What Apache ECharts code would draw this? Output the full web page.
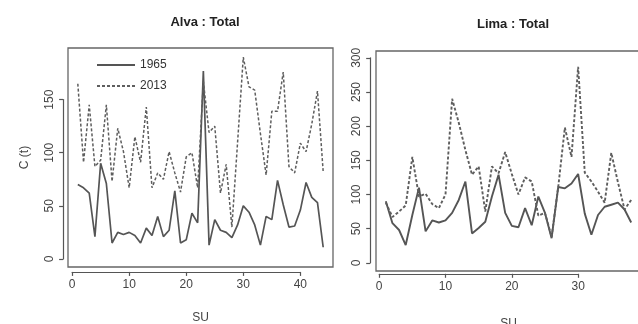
<!DOCTYPE html>
<html>
<head>
<meta charset="utf-8">
<script src="https://cdn.jsdelivr.net/npm/echarts@6/dist/echarts.min.js"></script>
<style>
html, body { margin: 0; padding: 0; background: #fff; }
#chart { width: 638px; height: 324px; }
</style>
</head>
<body>
<div id="chart"></div>
<script>
// SU index for each panel
var alvaSU = [1,2,3,4,5,6,7,8,9,10,11,12,13,14,15,16,17,18,19,20,21,22,23,24,25,26,27,28,29,30,31,32,33,34,35,36,37,38,39,40,41,42,43,44];
var limaSU = [1,2,3,4,5,6,7,8,9,10,11,12,13,14,15,16,17,18,19,20,21,22,23,24,25,26,27,28,29,30,31,32,33,34,35,36,37,38];

// Alva : Total
var alva1965 = [70,67,62,21,90,71,15,25,23,25,22,15,29,22,40,21,27,64,15,18,43,34,177,13,37,27,25,20,32,50,44,32,13,40,37,74,51,30,31,46,72,58,53,11];
var alva2013 = [165,91,145,87,93,145,73,123,101,67,115,91,143,67,81,75,101,81,63,96,100,67,167,119,125,62,89,30,110,190,162,159,118,79,139,139,176,87,81,109,101,127,158,82];

// Lima : Total
var lima1965 = [90,58,48,26,70,110,46,62,59,62,73,92,119,43,51,60,97,129,73,54,52,80,55,97,73,36,111,109,116,130,72,41,70,82,85,88,78,59];
var lima2013 = [88,67,75,84,155,97,101,86,80,100,240,205,165,129,141,75,141,131,162,130,100,125,119,69,73,38,111,198,155,287,132,119,104,88,161,118,78,92];

var legendNames = ['1965', '2013'];
var alvaXTicks = { min: 0, max: 40, interval: 10 };
var alvaYTicks = { min: 0, max: 150, interval: 50 };
var limaXTicks = { min: 0, max: 30, interval: 10 };
var limaYTicks = { min: 0, max: 300, interval: 50 };

// plot regions (R style: 4% padding around data)
var alvaBox = { left: 68, top: 48, width: 265, height: 219, xmin: -0.72, xmax: 45.72, ymin: -7.6, ymax: 198.6 };
var limaBox = { left: 376, top: 51, width: 265, height: 220, xmin: -0.48, xmax: 39.48, ymin: -12, ymax: 310 };

var axisColor = '#555';
var textColor = '#444';
var font = 'Liberation Sans, Arial, sans-serif';

function pairs(xs, ys) {
    return xs.map(function (x, i) { return [x, ys[i]]; });
}

// grid holding only the R-style axes (from first to last tick)
function axisGrid(box, xt, yt) {
    var sx = box.width / (box.xmax - box.xmin);
    var sy = box.height / (box.ymax - box.ymin);
    return {
        left: box.left + (xt.min - box.xmin) * sx,
        width: (xt.max - xt.min) * sx,
        top: box.top + (box.ymax - yt.max) * sy,
        height: (yt.max - yt.min) * sy,
        containLabel: false,
        outerBoundsMode: 'none'
    };
}

function dataGrid(box) {
    return {
        left: box.left, top: box.top, width: box.width, height: box.height,
        show: true, borderColor: '#666', borderWidth: 1.3, backgroundColor: 'transparent',
        containLabel: false,
        outerBoundsMode: 'none'
    };
}

function hiddenAxis(gridIndex, min, max, name, gap, rotate) {
    return {
        type: 'value', gridIndex: gridIndex, min: min, max: max,
        axisLine: { show: false }, axisTick: { show: false },
        axisLabel: { show: false }, splitLine: { show: false },
        name: name, nameLocation: 'middle', nameGap: gap, nameRotate: rotate,
        nameTextStyle: { color: textColor, fontSize: 12, fontFamily: font }
    };
}

function tickAxis(gridIndex, t, offset, rotate) {
    return {
        type: 'value', gridIndex: gridIndex, min: t.min, max: t.max, interval: t.interval,
        offset: offset,
        axisLine: { show: true, onZero: false, lineStyle: { color: axisColor, width: 1.2 } },
        axisTick: { show: true, length: 4, lineStyle: { color: axisColor, width: 1.2 } },
        axisLabel: { color: textColor, fontSize: 12, fontFamily: font, margin: 7, rotate: rotate || 0 },
        splitLine: { show: false }
    };
}

function lineSeries(name, xi, data, dashed, width) {
    return {
        type: 'line', name: name, xAxisIndex: xi, yAxisIndex: xi,
        data: data, symbol: 'none', showSymbol: false, animation: false,
        lineStyle: dashed
            ? { color: '#5e5e5e', width: width, type: [3, 2] }
            : { color: '#555', width: width },
        itemStyle: { color: dashed ? '#5e5e5e' : '#555' }
    };
}

var dom = document.getElementById('chart');
var chart = echarts.init(dom, null, { renderer: 'canvas' });

var option = {
    backgroundColor: '#fff',
    animation: false,
    title: [
        { text: 'Alva : Total', left: 200, top: 11, textAlign: 'center',
          textStyle: { fontSize: 13, fontWeight: 'bold', color: '#222', fontFamily: font } },
        { text: 'Lima : Total', left: 508, top: 13, textAlign: 'center',
          textStyle: { fontSize: 13, fontWeight: 'bold', color: '#222', fontFamily: font } }
    ],
    legend: {
        data: legendNames, orient: 'vertical', left: 91, top: 54,
        itemWidth: 38, itemHeight: 14, itemGap: 9,
        itemStyle: { opacity: 0 },
        textStyle: { color: '#333', fontSize: 12, fontFamily: font }
    },
    grid: [
        dataGrid(alvaBox),
        axisGrid(alvaBox, alvaXTicks, alvaYTicks),
        dataGrid(limaBox),
        axisGrid(limaBox, limaXTicks, limaYTicks)
    ],
    xAxis: [
        hiddenAxis(0, alvaBox.xmin, alvaBox.xmax, 'SU', 45, 0),
        tickAxis(1, alvaXTicks, 13),
        hiddenAxis(2, limaBox.xmin, limaBox.xmax, 'SU', 47, 0),
        tickAxis(3, limaXTicks, 11)
    ],
    yAxis: [
        hiddenAxis(0, alvaBox.ymin, alvaBox.ymax, 'C (t)', 37, 90),
        tickAxis(1, alvaYTicks, 9, 90),
        hiddenAxis(2, limaBox.ymin, limaBox.ymax, '', 0, 90),
        tickAxis(3, limaYTicks, 9, 90)
    ],
    series: [
        lineSeries('1965', 0, pairs(alvaSU, alva1965), false, 1.7),
        lineSeries('2013', 0, pairs(alvaSU, alva2013), true, 1.5),
        lineSeries('1965', 2, pairs(limaSU, lima1965), false, 1.9),
        lineSeries('2013', 2, pairs(limaSU, lima2013), true, 1.9)
    ]
};
chart.setOption(option);
window.addEventListener('resize', function () {
    chart.resize();
});
</script>
</body>
</html>
